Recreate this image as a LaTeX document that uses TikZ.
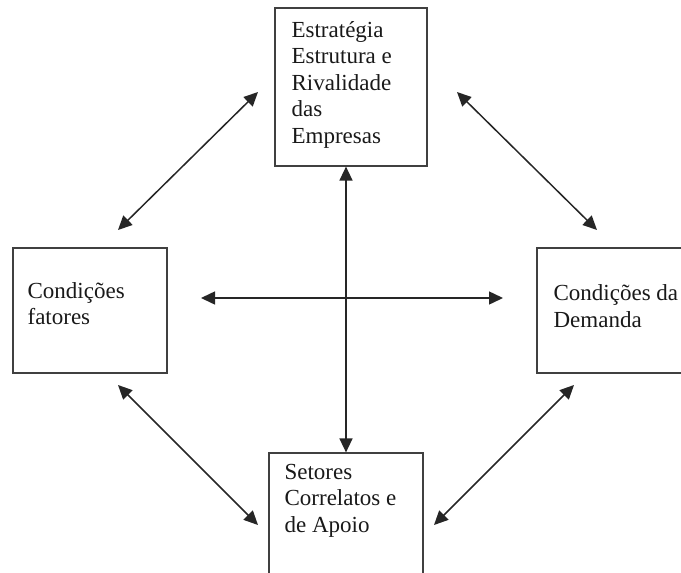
\documentclass[tikz,border=0pt]{standalone}
\usepackage{fontspec}
\setmainfont{Liberation Serif}
\usetikzlibrary{arrows.meta}

\begin{document}
\begin{tikzpicture}[
    x=1pt, y=-1pt,
    every node/.style={font=\fontsize{23}{26.5}\selectfont, text=black!90},
    box/.style={draw=black!75, line width=1.2pt, rectangle, inner sep=0pt},
    boxtext/.style={anchor=north west, align=left, inner sep=0pt},
    link/.style={draw=black!85, line width=1.5pt, {Triangle[length=14pt, width=13pt]}-{Triangle[length=14pt, width=13pt]}}
]
\useasboundingbox (0,0) rectangle (681,573);
\clip (0,0) rectangle (681,573);

% The four boxes
\node[box, minimum width=152, minimum height=158] (estrategia) at (351,87) {};
\node[box, minimum width=154, minimum height=125] (fatores) at (90,310.5) {};
\node[box, minimum width=163, minimum height=125] (demanda) at (618.5,310.5) {};
\node[box, minimum width=154, minimum height=147] (setores) at (346,526.5) {};

% Box texts
\node[boxtext] (estrategia text) at ([xshift=17pt, yshift=-13.5pt]estrategia.north west)
    {Estratégia\\Estrutura e\\Rivalidade\\das\\Empresas};
\node[boxtext] (fatores text) at ([xshift=15pt, yshift=-34.5pt]fatores.north west)
    {Condições\\fatores};
\node[boxtext] (demanda text) at ([xshift=17pt, yshift=-37pt]demanda.north west)
    {Condições da\\Demanda};
\node[boxtext] (setores text) at ([xshift=16pt, yshift=-11.5pt]setores.north west)
    {Setores\\Correlatos e\\de Apoio};

% Free ends of the arrows
\coordinate (tl a) at (258,92);  \coordinate (tl b) at (118,230);
\coordinate (tr a) at (457,92);  \coordinate (tr b) at (597,230);
\coordinate (bl a) at (118,385); \coordinate (bl b) at (258,525);
\coordinate (br a) at (574,385); \coordinate (br b) at (434,525);
\coordinate (h a) at (201,298);  \coordinate (h b) at (503,298);

% Arrows
\draw[link] (tl a) -- (tl b);
\draw[link] (tr a) -- (tr b);
\draw[link] (bl a) -- (bl b);
\draw[link] (br a) -- (br b);
\draw[link] (h a) -- (h b);
\draw[link] (estrategia.south -| setores.north) -- (setores.north);

\end{tikzpicture}
\end{document}
